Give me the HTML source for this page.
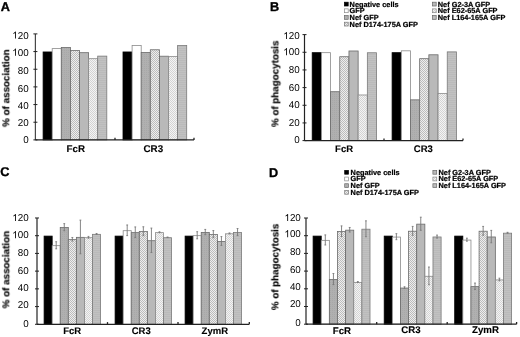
<!DOCTYPE html>
<html><head><meta charset="utf-8"><style>
html,body{margin:0;padding:0;background:#fff;width:520px;height:337px;overflow:hidden}
svg{display:block;-webkit-font-smoothing:antialiased}
body{-webkit-font-smoothing:antialiased}
svg text{will-change:transform}
text{font-family:"Liberation Sans", sans-serif;fill:#000;text-rendering:geometricPrecision}
</style></head><body>
<svg width="520" height="337" viewBox="0 0 520 337">
<rect width="520" height="337" fill="#fff"/>
<defs>
<pattern id="p3" width="2" height="2" patternUnits="userSpaceOnUse"><rect width="2" height="2" fill="#b0b0b0"/><rect width="1" height="1" fill="#a8a8a8"/></pattern>
<pattern id="p4" width="2" height="2" patternUnits="userSpaceOnUse"><rect width="2" height="2" fill="#eeeeee"/><rect width="1" height="1" fill="#bcbcbc"/><rect x="1" y="1" width="1" height="1" fill="#bcbcbc"/></pattern>
<pattern id="p5" width="2" height="2" patternUnits="userSpaceOnUse"><rect width="2" height="2" fill="#b9b9b9"/></pattern>
<pattern id="p6" width="2" height="2" patternUnits="userSpaceOnUse"><rect width="2" height="2" fill="#f4f4f4"/><rect width="1" height="1" fill="#d4d4d4"/><rect x="1" y="1" width="1" height="1" fill="#d4d4d4"/></pattern>
<pattern id="p7" width="2" height="2" patternUnits="userSpaceOnUse"><rect width="2" height="2" fill="#c1c1c1"/><rect width="2" height="1" fill="#bababa"/></pattern>
</defs>
<text x="0.8" y="10.8" font-size="12.7" font-weight="bold" stroke="#000" stroke-width="0.35">A</text>
<rect x="43.10" y="51.97" width="9.10" height="87.93" fill="#000000" stroke="#000000" stroke-width="0.8"/>
<rect x="52.20" y="48.61" width="9.10" height="91.29" fill="#ffffff" stroke="#8a8a8a" stroke-width="0.8"/>
<rect x="61.30" y="47.47" width="9.10" height="92.43" fill="url(#p3)" stroke="#6a6a6a" stroke-width="0.8"/>
<rect x="70.40" y="50.56" width="9.10" height="89.34" fill="url(#p4)" stroke="#6a6a6a" stroke-width="0.8"/>
<rect x="79.50" y="52.68" width="9.10" height="87.22" fill="url(#p5)" stroke="#6a6a6a" stroke-width="0.8"/>
<rect x="88.60" y="58.68" width="9.10" height="81.22" fill="url(#p6)" stroke="#8a8a8a" stroke-width="0.8"/>
<rect x="97.70" y="56.12" width="9.10" height="83.78" fill="url(#p7)" stroke="#7a7a7a" stroke-width="0.8"/>
<rect x="123.00" y="51.97" width="9.10" height="87.93" fill="#000000" stroke="#000000" stroke-width="0.8"/>
<rect x="132.10" y="45.52" width="9.10" height="94.38" fill="#ffffff" stroke="#8a8a8a" stroke-width="0.8"/>
<rect x="141.20" y="52.50" width="9.10" height="87.40" fill="url(#p3)" stroke="#6a6a6a" stroke-width="0.8"/>
<rect x="150.30" y="49.76" width="9.10" height="90.14" fill="url(#p4)" stroke="#6a6a6a" stroke-width="0.8"/>
<rect x="159.40" y="56.21" width="9.10" height="83.69" fill="url(#p5)" stroke="#6a6a6a" stroke-width="0.8"/>
<rect x="168.50" y="56.39" width="9.10" height="83.51" fill="url(#p6)" stroke="#8a8a8a" stroke-width="0.8"/>
<rect x="177.60" y="45.52" width="9.10" height="94.38" fill="url(#p7)" stroke="#7a7a7a" stroke-width="0.8"/>
<line x1="35.4" y1="33.90" x2="35.4" y2="139.9" stroke="#484848" stroke-width="1.2"/>
<line x1="35.4" y1="139.9" x2="194" y2="139.9" stroke="#222" stroke-width="1.2"/>
<line x1="33.4" y1="139.90" x2="37.4" y2="139.90" stroke="#222" stroke-width="1"/>
<text transform="translate(23.15,143.20) scale(0.98,1)" font-size="10">0</text>
<line x1="33.4" y1="122.23" x2="37.4" y2="122.23" stroke="#222" stroke-width="1"/>
<text transform="translate(17.70,125.90) scale(0.98,1)" font-size="10">2</text><text transform="translate(23.15,125.90) scale(0.98,1)" font-size="10">0</text>
<line x1="33.4" y1="104.57" x2="37.4" y2="104.57" stroke="#222" stroke-width="1"/>
<text transform="translate(17.70,109.10) scale(0.98,1)" font-size="10">4</text><text transform="translate(23.15,109.10) scale(0.98,1)" font-size="10">0</text>
<line x1="33.4" y1="86.90" x2="37.4" y2="86.90" stroke="#222" stroke-width="1"/>
<text transform="translate(17.70,91.60) scale(0.98,1)" font-size="10">6</text><text transform="translate(23.15,91.60) scale(0.98,1)" font-size="10">0</text>
<line x1="33.4" y1="69.24" x2="37.4" y2="69.24" stroke="#222" stroke-width="1"/>
<text transform="translate(17.70,74.00) scale(0.98,1)" font-size="10">8</text><text transform="translate(23.15,74.00) scale(0.98,1)" font-size="10">0</text>
<line x1="33.4" y1="51.57" x2="37.4" y2="51.57" stroke="#222" stroke-width="1"/>
<path d="M763 0H583V1147Q518 1085 412.5 1023T223 930V1104Q374 1175 487 1276T647 1472H763V0Z" fill="#000" transform="translate(12.25,55.70) scale(0.00479,-0.00488)"/><text transform="translate(17.70,55.70) scale(0.98,1)" font-size="10">0</text><text transform="translate(23.15,55.70) scale(0.98,1)" font-size="10">0</text>
<line x1="33.4" y1="33.90" x2="37.4" y2="33.90" stroke="#222" stroke-width="1"/>
<path d="M763 0H583V1147Q518 1085 412.5 1023T223 930V1104Q374 1175 487 1276T647 1472H763V0Z" fill="#000" transform="translate(12.25,38.60) scale(0.00479,-0.00488)"/><text transform="translate(17.70,38.60) scale(0.98,1)" font-size="10">2</text><text transform="translate(23.15,38.60) scale(0.98,1)" font-size="10">0</text>
<line x1="115" y1="139.9" x2="115" y2="137.70000000000002" stroke="#222" stroke-width="1.3"/>
<line x1="194" y1="139.9" x2="194" y2="137.70000000000002" stroke="#222" stroke-width="1.3"/>
<text x="75.8" y="151.8" font-size="9.8" font-weight="bold" stroke="#000" stroke-width="0.12" text-anchor="middle">FcR</text>
<text x="153.3" y="151.8" font-size="9.8" font-weight="bold" stroke="#000" stroke-width="0.12" text-anchor="middle">CR3</text>
<text transform="translate(9.3,88.2) rotate(-90)" font-size="9.8" font-weight="bold" stroke="#000" stroke-width="0.15" text-anchor="middle">% of association</text>
<text x="270.1" y="10.6" font-size="12.7" font-weight="bold" stroke="#000" stroke-width="0.35">B</text>
<rect x="312.20" y="52.67" width="9.19" height="87.93" fill="#000000" stroke="#000000" stroke-width="0.8"/>
<rect x="321.39" y="52.67" width="9.19" height="87.93" fill="#ffffff" stroke="#8a8a8a" stroke-width="0.8"/>
<rect x="330.58" y="91.71" width="9.19" height="48.89" fill="url(#p3)" stroke="#6a6a6a" stroke-width="0.8"/>
<rect x="339.77" y="56.73" width="9.19" height="83.87" fill="url(#p4)" stroke="#6a6a6a" stroke-width="0.8"/>
<rect x="348.96" y="50.99" width="9.19" height="89.61" fill="url(#p5)" stroke="#6a6a6a" stroke-width="0.8"/>
<rect x="358.15" y="94.98" width="9.19" height="45.62" fill="url(#p6)" stroke="#8a8a8a" stroke-width="0.8"/>
<rect x="367.34" y="52.76" width="9.19" height="87.84" fill="url(#p7)" stroke="#7a7a7a" stroke-width="0.8"/>
<rect x="392.10" y="52.67" width="9.19" height="87.93" fill="#000000" stroke="#000000" stroke-width="0.8"/>
<rect x="401.29" y="50.82" width="9.19" height="89.78" fill="#ffffff" stroke="#8a8a8a" stroke-width="0.8"/>
<rect x="410.48" y="99.84" width="9.19" height="40.76" fill="url(#p3)" stroke="#6a6a6a" stroke-width="0.8"/>
<rect x="419.67" y="58.68" width="9.19" height="81.92" fill="url(#p4)" stroke="#6a6a6a" stroke-width="0.8"/>
<rect x="428.86" y="54.79" width="9.19" height="85.81" fill="url(#p5)" stroke="#6a6a6a" stroke-width="0.8"/>
<rect x="438.05" y="93.39" width="9.19" height="47.21" fill="url(#p6)" stroke="#8a8a8a" stroke-width="0.8"/>
<rect x="447.24" y="51.88" width="9.19" height="88.72" fill="url(#p7)" stroke="#7a7a7a" stroke-width="0.8"/>
<line x1="304.5" y1="34.60" x2="304.5" y2="140.6" stroke="#222" stroke-width="1.2"/>
<line x1="304.5" y1="140.6" x2="463" y2="140.6" stroke="#222" stroke-width="1.2"/>
<line x1="302.5" y1="140.60" x2="306.5" y2="140.60" stroke="#222" stroke-width="1"/>
<text transform="translate(294.15,143.30) scale(0.98,1)" font-size="10">0</text>
<line x1="302.5" y1="122.93" x2="306.5" y2="122.93" stroke="#222" stroke-width="1"/>
<text transform="translate(288.70,125.50) scale(0.98,1)" font-size="10">2</text><text transform="translate(294.15,125.50) scale(0.98,1)" font-size="10">0</text>
<line x1="302.5" y1="105.27" x2="306.5" y2="105.27" stroke="#222" stroke-width="1"/>
<text transform="translate(288.70,108.40) scale(0.98,1)" font-size="10">4</text><text transform="translate(294.15,108.40) scale(0.98,1)" font-size="10">0</text>
<line x1="302.5" y1="87.60" x2="306.5" y2="87.60" stroke="#222" stroke-width="1"/>
<text transform="translate(288.70,90.70) scale(0.98,1)" font-size="10">6</text><text transform="translate(294.15,90.70) scale(0.98,1)" font-size="10">0</text>
<line x1="302.5" y1="69.94" x2="306.5" y2="69.94" stroke="#222" stroke-width="1"/>
<text transform="translate(288.70,72.90) scale(0.98,1)" font-size="10">8</text><text transform="translate(294.15,72.90) scale(0.98,1)" font-size="10">0</text>
<line x1="302.5" y1="52.27" x2="306.5" y2="52.27" stroke="#222" stroke-width="1"/>
<path d="M763 0H583V1147Q518 1085 412.5 1023T223 930V1104Q374 1175 487 1276T647 1472H763V0Z" fill="#000" transform="translate(283.25,55.20) scale(0.00479,-0.00488)"/><text transform="translate(288.70,55.20) scale(0.98,1)" font-size="10">0</text><text transform="translate(294.15,55.20) scale(0.98,1)" font-size="10">0</text>
<line x1="302.5" y1="34.60" x2="306.5" y2="34.60" stroke="#222" stroke-width="1"/>
<path d="M763 0H583V1147Q518 1085 412.5 1023T223 930V1104Q374 1175 487 1276T647 1472H763V0Z" fill="#000" transform="translate(283.25,39.10) scale(0.00479,-0.00488)"/><text transform="translate(288.70,39.10) scale(0.98,1)" font-size="10">2</text><text transform="translate(294.15,39.10) scale(0.98,1)" font-size="10">0</text>
<line x1="384" y1="140.6" x2="384" y2="138.4" stroke="#222" stroke-width="1.3"/>
<line x1="463" y1="140.6" x2="463" y2="138.4" stroke="#222" stroke-width="1.3"/>
<text x="344.1" y="151.8" font-size="9.5" font-weight="bold" stroke="#000" stroke-width="0.12" text-anchor="middle">FcR</text>
<text x="423.3" y="151.7" font-size="9.5" font-weight="bold" stroke="#000" stroke-width="0.12" text-anchor="middle">CR3</text>
<text transform="translate(278.4,83.75) rotate(-90)" font-size="9.8" font-weight="bold" stroke="#000" stroke-width="0.15" text-anchor="middle">% of phagocytosis</text>
<text x="0.2" y="175.8" font-size="12.7" font-weight="bold" stroke="#000" stroke-width="0.35">C</text>
<rect x="44.10" y="236.10" width="8.07" height="88.20" fill="#000000" stroke="#000000" stroke-width="0.8"/>
<rect x="52.17" y="245.67" width="8.07" height="78.63" fill="#ffffff" stroke="#8a8a8a" stroke-width="0.8"/>
<rect x="60.24" y="227.59" width="8.07" height="96.71" fill="url(#p3)" stroke="#6a6a6a" stroke-width="0.8"/>
<rect x="68.31" y="239.64" width="8.07" height="84.66" fill="url(#p4)" stroke="#6a6a6a" stroke-width="0.8"/>
<rect x="76.38" y="237.34" width="8.07" height="86.96" fill="url(#p5)" stroke="#6a6a6a" stroke-width="0.8"/>
<rect x="84.45" y="237.69" width="8.07" height="86.61" fill="url(#p6)" stroke="#8a8a8a" stroke-width="0.8"/>
<rect x="92.52" y="234.33" width="8.07" height="89.97" fill="url(#p7)" stroke="#7a7a7a" stroke-width="0.8"/>
<rect x="115.10" y="236.10" width="8.07" height="88.20" fill="#000000" stroke="#000000" stroke-width="0.8"/>
<rect x="123.17" y="230.70" width="8.07" height="93.60" fill="#ffffff" stroke="#8a8a8a" stroke-width="0.8"/>
<rect x="131.24" y="232.64" width="8.07" height="91.66" fill="url(#p3)" stroke="#6a6a6a" stroke-width="0.8"/>
<rect x="139.31" y="231.58" width="8.07" height="92.72" fill="url(#p4)" stroke="#6a6a6a" stroke-width="0.8"/>
<rect x="147.38" y="240.71" width="8.07" height="83.59" fill="url(#p5)" stroke="#6a6a6a" stroke-width="0.8"/>
<rect x="155.45" y="232.64" width="8.07" height="91.66" fill="url(#p6)" stroke="#8a8a8a" stroke-width="0.8"/>
<rect x="163.52" y="237.69" width="8.07" height="86.61" fill="url(#p7)" stroke="#7a7a7a" stroke-width="0.8"/>
<rect x="185.10" y="236.10" width="8.07" height="88.20" fill="#000000" stroke="#000000" stroke-width="0.8"/>
<rect x="193.17" y="235.66" width="8.07" height="88.64" fill="#ffffff" stroke="#8a8a8a" stroke-width="0.8"/>
<rect x="201.24" y="232.47" width="8.07" height="91.83" fill="url(#p3)" stroke="#6a6a6a" stroke-width="0.8"/>
<rect x="209.31" y="234.51" width="8.07" height="89.79" fill="url(#p4)" stroke="#6a6a6a" stroke-width="0.8"/>
<rect x="217.38" y="241.42" width="8.07" height="82.88" fill="url(#p5)" stroke="#6a6a6a" stroke-width="0.8"/>
<rect x="225.45" y="233.80" width="8.07" height="90.50" fill="url(#p6)" stroke="#8a8a8a" stroke-width="0.8"/>
<rect x="233.52" y="232.47" width="8.07" height="91.83" fill="url(#p7)" stroke="#7a7a7a" stroke-width="0.8"/>
<line x1="56.20" y1="241.72" x2="56.20" y2="248.81" stroke="#787878" stroke-width="0.9"/>
<line x1="55.30" y1="241.72" x2="57.10" y2="241.72" stroke="#787878" stroke-width="0.9"/>
<line x1="55.30" y1="248.81" x2="57.10" y2="248.81" stroke="#787878" stroke-width="0.9"/>
<line x1="64.28" y1="223.65" x2="64.28" y2="230.74" stroke="#787878" stroke-width="0.9"/>
<line x1="63.38" y1="223.65" x2="65.18" y2="223.65" stroke="#787878" stroke-width="0.9"/>
<line x1="63.38" y1="230.74" x2="65.18" y2="230.74" stroke="#787878" stroke-width="0.9"/>
<line x1="72.34" y1="237.47" x2="72.34" y2="241.02" stroke="#787878" stroke-width="0.9"/>
<line x1="71.44" y1="237.47" x2="73.25" y2="237.47" stroke="#787878" stroke-width="0.9"/>
<line x1="71.44" y1="241.02" x2="73.25" y2="241.02" stroke="#787878" stroke-width="0.9"/>
<line x1="80.41" y1="220.11" x2="80.41" y2="253.77" stroke="#787878" stroke-width="0.9"/>
<line x1="79.51" y1="220.11" x2="81.31" y2="220.11" stroke="#787878" stroke-width="0.9"/>
<line x1="79.51" y1="253.77" x2="81.31" y2="253.77" stroke="#787878" stroke-width="0.9"/>
<line x1="88.48" y1="236.41" x2="88.48" y2="238.18" stroke="#787878" stroke-width="0.9"/>
<line x1="87.58" y1="236.41" x2="89.39" y2="236.41" stroke="#787878" stroke-width="0.9"/>
<line x1="87.58" y1="238.18" x2="89.39" y2="238.18" stroke="#787878" stroke-width="0.9"/>
<line x1="96.56" y1="233.49" x2="96.56" y2="234.37" stroke="#787878" stroke-width="0.9"/>
<line x1="95.66" y1="233.49" x2="97.46" y2="233.49" stroke="#787878" stroke-width="0.9"/>
<line x1="95.66" y1="234.37" x2="97.46" y2="234.37" stroke="#787878" stroke-width="0.9"/>
<line x1="127.20" y1="224.98" x2="127.20" y2="235.61" stroke="#787878" stroke-width="0.9"/>
<line x1="126.30" y1="224.98" x2="128.10" y2="224.98" stroke="#787878" stroke-width="0.9"/>
<line x1="126.30" y1="235.61" x2="128.10" y2="235.61" stroke="#787878" stroke-width="0.9"/>
<line x1="135.28" y1="226.93" x2="135.28" y2="237.56" stroke="#787878" stroke-width="0.9"/>
<line x1="134.38" y1="226.93" x2="136.18" y2="226.93" stroke="#787878" stroke-width="0.9"/>
<line x1="134.38" y1="237.56" x2="136.18" y2="237.56" stroke="#787878" stroke-width="0.9"/>
<line x1="143.34" y1="226.75" x2="143.34" y2="235.61" stroke="#787878" stroke-width="0.9"/>
<line x1="142.44" y1="226.75" x2="144.25" y2="226.75" stroke="#787878" stroke-width="0.9"/>
<line x1="142.44" y1="235.61" x2="144.25" y2="235.61" stroke="#787878" stroke-width="0.9"/>
<line x1="151.41" y1="228.08" x2="151.41" y2="252.53" stroke="#787878" stroke-width="0.9"/>
<line x1="150.51" y1="228.08" x2="152.31" y2="228.08" stroke="#787878" stroke-width="0.9"/>
<line x1="150.51" y1="252.53" x2="152.31" y2="252.53" stroke="#787878" stroke-width="0.9"/>
<line x1="159.48" y1="231.80" x2="159.48" y2="232.69" stroke="#787878" stroke-width="0.9"/>
<line x1="158.58" y1="231.80" x2="160.38" y2="231.80" stroke="#787878" stroke-width="0.9"/>
<line x1="158.58" y1="232.69" x2="160.38" y2="232.69" stroke="#787878" stroke-width="0.9"/>
<line x1="167.55" y1="237.03" x2="167.55" y2="237.56" stroke="#787878" stroke-width="0.9"/>
<line x1="166.65" y1="237.03" x2="168.45" y2="237.03" stroke="#787878" stroke-width="0.9"/>
<line x1="166.65" y1="237.56" x2="168.45" y2="237.56" stroke="#787878" stroke-width="0.9"/>
<line x1="197.20" y1="231.71" x2="197.20" y2="238.80" stroke="#787878" stroke-width="0.9"/>
<line x1="196.30" y1="231.71" x2="198.10" y2="231.71" stroke="#787878" stroke-width="0.9"/>
<line x1="196.30" y1="238.80" x2="198.10" y2="238.80" stroke="#787878" stroke-width="0.9"/>
<line x1="205.28" y1="229.41" x2="205.28" y2="234.73" stroke="#787878" stroke-width="0.9"/>
<line x1="204.38" y1="229.41" x2="206.18" y2="229.41" stroke="#787878" stroke-width="0.9"/>
<line x1="204.38" y1="234.73" x2="206.18" y2="234.73" stroke="#787878" stroke-width="0.9"/>
<line x1="213.34" y1="230.56" x2="213.34" y2="237.65" stroke="#787878" stroke-width="0.9"/>
<line x1="212.44" y1="230.56" x2="214.25" y2="230.56" stroke="#787878" stroke-width="0.9"/>
<line x1="212.44" y1="237.65" x2="214.25" y2="237.65" stroke="#787878" stroke-width="0.9"/>
<line x1="221.41" y1="236.59" x2="221.41" y2="245.45" stroke="#787878" stroke-width="0.9"/>
<line x1="220.51" y1="236.59" x2="222.31" y2="236.59" stroke="#787878" stroke-width="0.9"/>
<line x1="220.51" y1="245.45" x2="222.31" y2="245.45" stroke="#787878" stroke-width="0.9"/>
<line x1="229.48" y1="232.95" x2="229.48" y2="233.84" stroke="#787878" stroke-width="0.9"/>
<line x1="228.58" y1="232.95" x2="230.38" y2="232.95" stroke="#787878" stroke-width="0.9"/>
<line x1="228.58" y1="233.84" x2="230.38" y2="233.84" stroke="#787878" stroke-width="0.9"/>
<line x1="237.55" y1="228.52" x2="237.55" y2="235.61" stroke="#787878" stroke-width="0.9"/>
<line x1="236.65" y1="228.52" x2="238.45" y2="228.52" stroke="#787878" stroke-width="0.9"/>
<line x1="236.65" y1="235.61" x2="238.45" y2="235.61" stroke="#787878" stroke-width="0.9"/>
<line x1="37.0" y1="217.98" x2="37.0" y2="324.3" stroke="#222" stroke-width="1.2"/>
<line x1="37.0" y1="324.3" x2="249.3" y2="324.3" stroke="#222" stroke-width="1.2"/>
<line x1="35.0" y1="324.30" x2="39.0" y2="324.30" stroke="#222" stroke-width="1"/>
<text transform="translate(23.15,326.80) scale(0.98,1)" font-size="10">0</text>
<line x1="35.0" y1="306.58" x2="39.0" y2="306.58" stroke="#222" stroke-width="1"/>
<text transform="translate(17.70,308.30) scale(0.98,1)" font-size="10">2</text><text transform="translate(23.15,308.30) scale(0.98,1)" font-size="10">0</text>
<line x1="35.0" y1="288.86" x2="39.0" y2="288.86" stroke="#222" stroke-width="1"/>
<text transform="translate(17.70,291.30) scale(0.98,1)" font-size="10">4</text><text transform="translate(23.15,291.30) scale(0.98,1)" font-size="10">0</text>
<line x1="35.0" y1="271.14" x2="39.0" y2="271.14" stroke="#222" stroke-width="1"/>
<text transform="translate(17.70,273.80) scale(0.98,1)" font-size="10">6</text><text transform="translate(23.15,273.80) scale(0.98,1)" font-size="10">0</text>
<line x1="35.0" y1="253.42" x2="39.0" y2="253.42" stroke="#222" stroke-width="1"/>
<text transform="translate(17.70,256.40) scale(0.98,1)" font-size="10">8</text><text transform="translate(23.15,256.40) scale(0.98,1)" font-size="10">0</text>
<line x1="35.0" y1="235.70" x2="39.0" y2="235.70" stroke="#222" stroke-width="1"/>
<path d="M763 0H583V1147Q518 1085 412.5 1023T223 930V1104Q374 1175 487 1276T647 1472H763V0Z" fill="#000" transform="translate(12.25,238.20) scale(0.00479,-0.00488)"/><text transform="translate(17.70,238.20) scale(0.98,1)" font-size="10">0</text><text transform="translate(23.15,238.20) scale(0.98,1)" font-size="10">0</text>
<line x1="35.0" y1="217.98" x2="39.0" y2="217.98" stroke="#222" stroke-width="1"/>
<path d="M763 0H583V1147Q518 1085 412.5 1023T223 930V1104Q374 1175 487 1276T647 1472H763V0Z" fill="#000" transform="translate(12.25,221.10) scale(0.00479,-0.00488)"/><text transform="translate(17.70,221.10) scale(0.98,1)" font-size="10">2</text><text transform="translate(23.15,221.10) scale(0.98,1)" font-size="10">0</text>
<line x1="107.5" y1="324.3" x2="107.5" y2="322.1" stroke="#222" stroke-width="1.3"/>
<line x1="178" y1="324.3" x2="178" y2="322.1" stroke="#222" stroke-width="1.3"/>
<line x1="249.3" y1="324.3" x2="249.3" y2="322.1" stroke="#222" stroke-width="1.3"/>
<text x="72.2" y="334" font-size="9.5" font-weight="bold" stroke="#000" stroke-width="0.12" text-anchor="middle">FcR</text>
<text x="141.2" y="334" font-size="9.5" font-weight="bold" stroke="#000" stroke-width="0.12" text-anchor="middle">CR3</text>
<text x="214.8" y="334" font-size="9.5" font-weight="bold" stroke="#000" stroke-width="0.12" text-anchor="middle">ZymR</text>
<text transform="translate(9.3,269.6) rotate(-90)" font-size="9.8" font-weight="bold" stroke="#000" stroke-width="0.15" text-anchor="middle">% of association</text>
<text x="268.9" y="176.6" font-size="12.7" font-weight="bold" stroke="#000" stroke-width="0.35">D</text>
<rect x="313.10" y="236.10" width="8.13" height="88.10" fill="#000000" stroke="#000000" stroke-width="0.8"/>
<rect x="321.23" y="240.35" width="8.13" height="83.85" fill="#ffffff" stroke="#8a8a8a" stroke-width="0.8"/>
<rect x="329.36" y="279.46" width="8.13" height="44.74" fill="url(#p3)" stroke="#6a6a6a" stroke-width="0.8"/>
<rect x="337.49" y="231.59" width="8.13" height="92.61" fill="url(#p4)" stroke="#6a6a6a" stroke-width="0.8"/>
<rect x="345.62" y="230.17" width="8.13" height="94.03" fill="url(#p5)" stroke="#6a6a6a" stroke-width="0.8"/>
<rect x="353.75" y="282.39" width="8.13" height="41.81" fill="url(#p6)" stroke="#8a8a8a" stroke-width="0.8"/>
<rect x="361.88" y="229.20" width="8.13" height="95.00" fill="url(#p7)" stroke="#7a7a7a" stroke-width="0.8"/>
<rect x="384.20" y="236.10" width="8.13" height="88.10" fill="#000000" stroke="#000000" stroke-width="0.8"/>
<rect x="392.33" y="237.07" width="8.13" height="87.13" fill="#ffffff" stroke="#8a8a8a" stroke-width="0.8"/>
<rect x="400.46" y="288.05" width="8.13" height="36.15" fill="url(#p3)" stroke="#6a6a6a" stroke-width="0.8"/>
<rect x="408.59" y="231.23" width="8.13" height="92.97" fill="url(#p4)" stroke="#6a6a6a" stroke-width="0.8"/>
<rect x="416.72" y="224.15" width="8.13" height="100.05" fill="url(#p5)" stroke="#6a6a6a" stroke-width="0.8"/>
<rect x="424.85" y="276.28" width="8.13" height="47.92" fill="url(#p6)" stroke="#8a8a8a" stroke-width="0.8"/>
<rect x="432.98" y="236.98" width="8.13" height="87.22" fill="url(#p7)" stroke="#7a7a7a" stroke-width="0.8"/>
<rect x="454.70" y="236.10" width="8.13" height="88.10" fill="#000000" stroke="#000000" stroke-width="0.8"/>
<rect x="462.83" y="240.08" width="8.13" height="84.12" fill="#ffffff" stroke="#8a8a8a" stroke-width="0.8"/>
<rect x="470.96" y="286.63" width="8.13" height="37.57" fill="url(#p3)" stroke="#6a6a6a" stroke-width="0.8"/>
<rect x="479.09" y="231.23" width="8.13" height="92.97" fill="url(#p4)" stroke="#6a6a6a" stroke-width="0.8"/>
<rect x="487.22" y="236.98" width="8.13" height="87.22" fill="url(#p5)" stroke="#6a6a6a" stroke-width="0.8"/>
<rect x="495.35" y="279.91" width="8.13" height="44.29" fill="url(#p6)" stroke="#8a8a8a" stroke-width="0.8"/>
<rect x="503.48" y="233.18" width="8.13" height="91.02" fill="url(#p7)" stroke="#7a7a7a" stroke-width="0.8"/>
<line x1="325.30" y1="234.90" x2="325.30" y2="244.99" stroke="#787878" stroke-width="0.9"/>
<line x1="324.40" y1="234.90" x2="326.19" y2="234.90" stroke="#787878" stroke-width="0.9"/>
<line x1="324.40" y1="244.99" x2="326.19" y2="244.99" stroke="#787878" stroke-width="0.9"/>
<line x1="333.43" y1="273.49" x2="333.43" y2="284.64" stroke="#787878" stroke-width="0.9"/>
<line x1="332.53" y1="273.49" x2="334.32" y2="273.49" stroke="#787878" stroke-width="0.9"/>
<line x1="332.53" y1="284.64" x2="334.32" y2="284.64" stroke="#787878" stroke-width="0.9"/>
<line x1="341.56" y1="225.88" x2="341.56" y2="236.50" stroke="#787878" stroke-width="0.9"/>
<line x1="340.66" y1="225.88" x2="342.45" y2="225.88" stroke="#787878" stroke-width="0.9"/>
<line x1="340.66" y1="236.50" x2="342.45" y2="236.50" stroke="#787878" stroke-width="0.9"/>
<line x1="349.69" y1="227.47" x2="349.69" y2="232.07" stroke="#787878" stroke-width="0.9"/>
<line x1="348.79" y1="227.47" x2="350.58" y2="227.47" stroke="#787878" stroke-width="0.9"/>
<line x1="348.79" y1="232.07" x2="350.58" y2="232.07" stroke="#787878" stroke-width="0.9"/>
<line x1="357.81" y1="281.54" x2="357.81" y2="282.43" stroke="#787878" stroke-width="0.9"/>
<line x1="356.92" y1="281.54" x2="358.71" y2="281.54" stroke="#787878" stroke-width="0.9"/>
<line x1="356.92" y1="282.43" x2="358.71" y2="282.43" stroke="#787878" stroke-width="0.9"/>
<line x1="365.94" y1="220.83" x2="365.94" y2="236.76" stroke="#787878" stroke-width="0.9"/>
<line x1="365.05" y1="220.83" x2="366.84" y2="220.83" stroke="#787878" stroke-width="0.9"/>
<line x1="365.05" y1="236.76" x2="366.84" y2="236.76" stroke="#787878" stroke-width="0.9"/>
<line x1="396.39" y1="233.66" x2="396.39" y2="239.68" stroke="#787878" stroke-width="0.9"/>
<line x1="395.50" y1="233.66" x2="397.29" y2="233.66" stroke="#787878" stroke-width="0.9"/>
<line x1="395.50" y1="239.68" x2="397.29" y2="239.68" stroke="#787878" stroke-width="0.9"/>
<line x1="404.52" y1="286.76" x2="404.52" y2="288.53" stroke="#787878" stroke-width="0.9"/>
<line x1="403.62" y1="286.76" x2="405.42" y2="286.76" stroke="#787878" stroke-width="0.9"/>
<line x1="403.62" y1="288.53" x2="405.42" y2="288.53" stroke="#787878" stroke-width="0.9"/>
<line x1="412.65" y1="226.41" x2="412.65" y2="235.26" stroke="#787878" stroke-width="0.9"/>
<line x1="411.75" y1="226.41" x2="413.55" y2="226.41" stroke="#787878" stroke-width="0.9"/>
<line x1="411.75" y1="235.26" x2="413.55" y2="235.26" stroke="#787878" stroke-width="0.9"/>
<line x1="420.78" y1="217.20" x2="420.78" y2="230.30" stroke="#787878" stroke-width="0.9"/>
<line x1="419.88" y1="217.20" x2="421.68" y2="217.20" stroke="#787878" stroke-width="0.9"/>
<line x1="419.88" y1="230.30" x2="421.68" y2="230.30" stroke="#787878" stroke-width="0.9"/>
<line x1="428.92" y1="267.03" x2="428.92" y2="284.73" stroke="#787878" stroke-width="0.9"/>
<line x1="428.02" y1="267.03" x2="429.81" y2="267.03" stroke="#787878" stroke-width="0.9"/>
<line x1="428.02" y1="284.73" x2="429.81" y2="284.73" stroke="#787878" stroke-width="0.9"/>
<line x1="437.05" y1="235.08" x2="437.05" y2="238.09" stroke="#787878" stroke-width="0.9"/>
<line x1="436.15" y1="235.08" x2="437.94" y2="235.08" stroke="#787878" stroke-width="0.9"/>
<line x1="436.15" y1="238.09" x2="437.94" y2="238.09" stroke="#787878" stroke-width="0.9"/>
<line x1="466.89" y1="238.18" x2="466.89" y2="241.19" stroke="#787878" stroke-width="0.9"/>
<line x1="466.00" y1="238.18" x2="467.79" y2="238.18" stroke="#787878" stroke-width="0.9"/>
<line x1="466.00" y1="241.19" x2="467.79" y2="241.19" stroke="#787878" stroke-width="0.9"/>
<line x1="475.02" y1="283.05" x2="475.02" y2="289.42" stroke="#787878" stroke-width="0.9"/>
<line x1="474.12" y1="283.05" x2="475.92" y2="283.05" stroke="#787878" stroke-width="0.9"/>
<line x1="474.12" y1="289.42" x2="475.92" y2="289.42" stroke="#787878" stroke-width="0.9"/>
<line x1="483.15" y1="226.41" x2="483.15" y2="235.26" stroke="#787878" stroke-width="0.9"/>
<line x1="482.25" y1="226.41" x2="484.05" y2="226.41" stroke="#787878" stroke-width="0.9"/>
<line x1="482.25" y1="235.26" x2="484.05" y2="235.26" stroke="#787878" stroke-width="0.9"/>
<line x1="491.28" y1="230.39" x2="491.28" y2="242.78" stroke="#787878" stroke-width="0.9"/>
<line x1="490.38" y1="230.39" x2="492.18" y2="230.39" stroke="#787878" stroke-width="0.9"/>
<line x1="490.38" y1="242.78" x2="492.18" y2="242.78" stroke="#787878" stroke-width="0.9"/>
<line x1="499.42" y1="278.18" x2="499.42" y2="280.83" stroke="#787878" stroke-width="0.9"/>
<line x1="498.52" y1="278.18" x2="500.31" y2="278.18" stroke="#787878" stroke-width="0.9"/>
<line x1="498.52" y1="280.83" x2="500.31" y2="280.83" stroke="#787878" stroke-width="0.9"/>
<line x1="507.55" y1="232.34" x2="507.55" y2="233.22" stroke="#787878" stroke-width="0.9"/>
<line x1="506.65" y1="232.34" x2="508.44" y2="232.34" stroke="#787878" stroke-width="0.9"/>
<line x1="506.65" y1="233.22" x2="508.44" y2="233.22" stroke="#787878" stroke-width="0.9"/>
<line x1="306.0" y1="218.00" x2="306.0" y2="324.2" stroke="#222" stroke-width="1.2"/>
<line x1="306.0" y1="324.2" x2="516.6" y2="324.2" stroke="#222" stroke-width="1.2"/>
<line x1="304.0" y1="324.20" x2="308.0" y2="324.20" stroke="#222" stroke-width="1"/>
<text transform="translate(295.35,325.60) scale(0.98,1)" font-size="10">0</text>
<line x1="304.0" y1="306.50" x2="308.0" y2="306.50" stroke="#222" stroke-width="1"/>
<text transform="translate(289.90,307.20) scale(0.98,1)" font-size="10">2</text><text transform="translate(295.35,307.20) scale(0.98,1)" font-size="10">0</text>
<line x1="304.0" y1="288.80" x2="308.0" y2="288.80" stroke="#222" stroke-width="1"/>
<text transform="translate(289.90,290.30) scale(0.98,1)" font-size="10">4</text><text transform="translate(295.35,290.30) scale(0.98,1)" font-size="10">0</text>
<line x1="304.0" y1="271.10" x2="308.0" y2="271.10" stroke="#222" stroke-width="1"/>
<text transform="translate(289.90,272.60) scale(0.98,1)" font-size="10">6</text><text transform="translate(295.35,272.60) scale(0.98,1)" font-size="10">0</text>
<line x1="304.0" y1="253.40" x2="308.0" y2="253.40" stroke="#222" stroke-width="1"/>
<text transform="translate(289.90,255.00) scale(0.98,1)" font-size="10">8</text><text transform="translate(295.35,255.00) scale(0.98,1)" font-size="10">0</text>
<line x1="304.0" y1="235.70" x2="308.0" y2="235.70" stroke="#222" stroke-width="1"/>
<path d="M763 0H583V1147Q518 1085 412.5 1023T223 930V1104Q374 1175 487 1276T647 1472H763V0Z" fill="#000" transform="translate(284.45,237.20) scale(0.00479,-0.00488)"/><text transform="translate(289.90,237.20) scale(0.98,1)" font-size="10">0</text><text transform="translate(295.35,237.20) scale(0.98,1)" font-size="10">0</text>
<line x1="304.0" y1="218.00" x2="308.0" y2="218.00" stroke="#222" stroke-width="1"/>
<path d="M763 0H583V1147Q518 1085 412.5 1023T223 930V1104Q374 1175 487 1276T647 1472H763V0Z" fill="#000" transform="translate(284.45,221.10) scale(0.00479,-0.00488)"/><text transform="translate(289.90,221.10) scale(0.98,1)" font-size="10">2</text><text transform="translate(295.35,221.10) scale(0.98,1)" font-size="10">0</text>
<line x1="376.7" y1="324.2" x2="376.7" y2="322.0" stroke="#222" stroke-width="1.3"/>
<line x1="447.2" y1="324.2" x2="447.2" y2="322.0" stroke="#222" stroke-width="1.3"/>
<line x1="516.6" y1="324.2" x2="516.6" y2="322.0" stroke="#222" stroke-width="1.3"/>
<text x="341.9" y="333.7" font-size="9.7" font-weight="bold" stroke="#000" stroke-width="0.12" text-anchor="middle">FcR</text>
<text x="411" y="333.4" font-size="9.7" font-weight="bold" stroke="#000" stroke-width="0.12" text-anchor="middle">CR3</text>
<text x="485.5" y="333.4" font-size="9.7" font-weight="bold" stroke="#000" stroke-width="0.12" text-anchor="middle">ZymR</text>
<text transform="translate(278.4,266.9) rotate(-90)" font-size="9.8" font-weight="bold" stroke="#000" stroke-width="0.15" text-anchor="middle">% of phagocytosis</text>
<rect x="344.40" y="2.20" width="3.8" height="3.8" fill="#000000" stroke="#000000" stroke-width="0.7"/>
<text x="349.60" y="6.60" font-size="7.35" font-weight="bold" stroke="#000" stroke-width="0.22">Negative cells</text>
<rect x="344.40" y="8.87" width="3.8" height="3.8" fill="#ffffff" stroke="#8a8a8a" stroke-width="0.7"/>
<text x="349.60" y="13.27" font-size="7.35" font-weight="bold" stroke="#000" stroke-width="0.22">GFP</text>
<rect x="344.40" y="15.54" width="3.8" height="3.8" fill="url(#p3)" stroke="#6a6a6a" stroke-width="0.7"/>
<text x="349.60" y="19.94" font-size="7.35" font-weight="bold" stroke="#000" stroke-width="0.22">Nef GFP</text>
<rect x="344.40" y="22.21" width="3.8" height="3.8" fill="url(#p4)" stroke="#777777" stroke-width="0.7"/>
<text x="349.60" y="26.61" font-size="7.35" font-weight="bold" stroke="#000" stroke-width="0.22">Nef D174-175A GFP</text>
<rect x="432.40" y="2.20" width="3.8" height="3.8" fill="url(#p5)" stroke="#666666" stroke-width="0.7"/>
<text x="437.80" y="6.60" font-size="7.35" font-weight="bold" stroke="#000" stroke-width="0.22">Nef G2-3A GFP</text>
<rect x="432.40" y="8.87" width="3.8" height="3.8" fill="url(#p6)" stroke="#888888" stroke-width="0.7"/>
<text x="437.80" y="13.27" font-size="7.35" font-weight="bold" stroke="#000" stroke-width="0.22">Nef E62-65A GFP</text>
<rect x="432.40" y="15.54" width="3.8" height="3.8" fill="url(#p7)" stroke="#666666" stroke-width="0.7"/>
<text x="437.80" y="19.94" font-size="7.35" font-weight="bold" stroke="#000" stroke-width="0.22">Nef L164-165A GFP</text>
<rect x="344.70" y="170.40" width="3.8" height="3.8" fill="#000000" stroke="#000000" stroke-width="0.7"/>
<text x="350.60" y="174.80" font-size="7.35" font-weight="bold" stroke="#000" stroke-width="0.22">Negative cells</text>
<rect x="344.70" y="177.07" width="3.8" height="3.8" fill="#ffffff" stroke="#8a8a8a" stroke-width="0.7"/>
<text x="350.60" y="181.47" font-size="7.35" font-weight="bold" stroke="#000" stroke-width="0.22">GFP</text>
<rect x="344.70" y="183.74" width="3.8" height="3.8" fill="url(#p3)" stroke="#6a6a6a" stroke-width="0.7"/>
<text x="350.60" y="188.14" font-size="7.35" font-weight="bold" stroke="#000" stroke-width="0.22">Nef GFP</text>
<rect x="344.70" y="190.41" width="3.8" height="3.8" fill="url(#p4)" stroke="#777777" stroke-width="0.7"/>
<text x="350.60" y="194.81" font-size="7.35" font-weight="bold" stroke="#000" stroke-width="0.22">Nef D174-175A GFP</text>
<rect x="432.90" y="170.40" width="3.8" height="3.8" fill="url(#p5)" stroke="#666666" stroke-width="0.7"/>
<text x="438.50" y="174.80" font-size="7.35" font-weight="bold" stroke="#000" stroke-width="0.22">Nef G2-3A GFP</text>
<rect x="432.90" y="177.07" width="3.8" height="3.8" fill="url(#p6)" stroke="#888888" stroke-width="0.7"/>
<text x="438.50" y="181.47" font-size="7.35" font-weight="bold" stroke="#000" stroke-width="0.22">Nef E62-65A GFP</text>
<rect x="432.90" y="183.74" width="3.8" height="3.8" fill="url(#p7)" stroke="#666666" stroke-width="0.7"/>
<text x="438.50" y="188.14" font-size="7.35" font-weight="bold" stroke="#000" stroke-width="0.22">Nef L164-165A GFP</text>
</svg>
</body></html>
